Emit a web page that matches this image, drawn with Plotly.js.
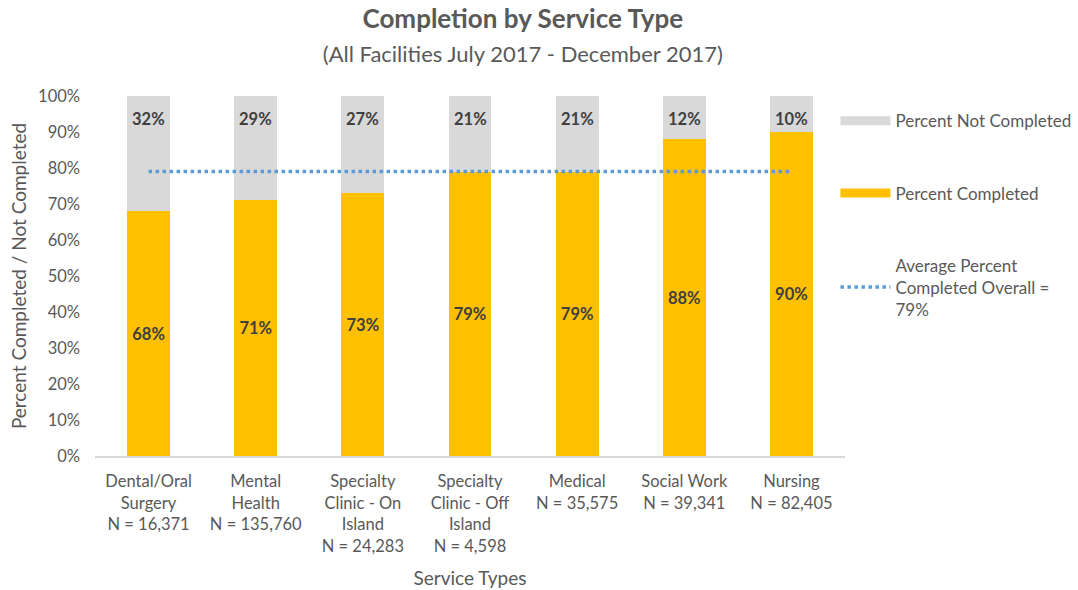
<!DOCTYPE html>
<html>
<head>
<meta charset="utf-8">
<script src="https://cdn.plot.ly/plotly-3.0.1.min.js"></script>
<style>html,body{margin:0;padding:0;background:#fff;}#chart{width:1078px;height:590px;}</style>
</head>
<body>
<div id="chart"></div>
<script>
const categories = [
  "Dental/Oral<br>Surgery<br>N = 16,371",
  "Mental<br>Health<br>N = 135,760",
  "Specialty<br>Clinic - On<br>Island<br>N = 24,283",
  "Specialty<br>Clinic - Off<br>Island<br>N = 4,598",
  "Medical<br>N = 35,575",
  "Social Work<br>N = 39,341",
  "Nursing<br>N = 82,405"
];
const percentCompleted = [68, 71, 73, 79, 79, 88, 90];
const percentNotCompleted = [32, 29, 27, 21, 21, 12, 10];
const averageCompleted = [79, 79, 79, 79, 79, 79, 79];
const yTickVals = [0, 10, 20, 30, 40, 50, 60, 70, 80, 90, 100];
const yTickText = yTickVals.map(v => v + "%");

const FONT = "Lato, 'Open Sans', sans-serif";
const LABEL = "#404040";
const AXIS = "#595959";
const GREY = "#D9D9D9";
const GOLD = "#FFC000";

const traces = [
  {
    type: "bar", name: "Percent Completed", x: categories, y: percentCompleted,
    marker: {color: GOLD},
    text: percentCompleted.map(v => "<b>" + v + "%</b>"),
    textposition: "inside", insidetextanchor: "middle",
    textfont: {family: FONT, size: 16.5, color: LABEL},
    showlegend: false, hoverinfo: "skip"
  },
  {
    type: "bar", name: "Percent Not Completed", x: categories, y: percentNotCompleted,
    marker: {color: GREY},
    showlegend: false, hoverinfo: "skip"
  },
  {
    type: "scatter", mode: "lines",
    name: "Average Percent<br>Completed Overall =<br>79%",
    x: categories, y: averageCompleted,
    line: {color: "#5B9BD5", width: 3.5, dash: "dot"},
    legendgroup: "c", legendrank: 3, hoverinfo: "skip"
  },
  // legend-only entries (wide swatches like the original legend)
  {
    type: "scatter", mode: "lines", name: "Percent Not Completed",
    x: [null], y: [null], line: {color: GREY, width: 9},
    legendgroup: "a", legendrank: 1, hoverinfo: "skip"
  },
  {
    type: "scatter", mode: "lines", name: "Percent Completed",
    x: [null], y: [null], line: {color: GOLD, width: 9},
    legendgroup: "b", legendrank: 2, hoverinfo: "skip"
  }
];

const notCompletedLabels = categories.map((c, i) => ({
  x: c, y: percentCompleted[i] + percentNotCompleted[i],
  xref: "x", yref: "y", yanchor: "middle", yshift: -23,
  text: "<b>" + percentNotCompleted[i] + "%</b>", showarrow: false,
  font: {family: FONT, size: 16.5, color: LABEL}
}));

const layout = {
  width: 1078, height: 590,
  margin: {l: 95, r: 233, t: 96, b: 134, autoexpand: false},
  paper_bgcolor: "#fff", plot_bgcolor: "#fff",
  barmode: "stack", bargap: 0.6,
  font: {family: FONT, color: AXIS, size: 16.5},
  title: {
    text: "<b>Completion by Service Type</b><br><span style='font-size:22px'>(All Facilities July 2017 - December 2017)</span>",
    x: 0.485, xanchor: "center", xref: "container",
    y: 0.953, yanchor: "middle", yref: "container",
    font: {family: FONT, size: 26, color: AXIS}
  },
  xaxis: {
    type: "category", showgrid: false, showline: true, linecolor: GREY, linewidth: 1.5,
    ticks: "", tickfont: {family: FONT, size: 16.5, color: AXIS}, tickangle: 0,
    ticklabelstandoff: 10,
    title: {text: "Service Types", font: {family: FONT, size: 19, color: AXIS}, standoff: 17}
  },
  yaxis: {
    range: [0, 100], tickvals: yTickVals, ticktext: yTickText,
    showgrid: false, zeroline: false, showline: false, ticks: "",
    tickfont: {family: FONT, size: 16.5, color: AXIS}, ticklabelstandoff: 14,
    title: {text: "Percent Completed / Not Completed", font: {family: FONT, size: 19, color: AXIS}, standoff: 6}
  },
  annotations: notCompletedLabels,
  showlegend: true,
  legend: {
    xref: "container", yref: "container",
    x: 0.775, y: 0.825, xanchor: "left", yanchor: "top",
    traceorder: "grouped", tracegroupgap: 47,
    font: {family: FONT, size: 17, color: AXIS},
    bgcolor: "rgba(0,0,0,0)", itemwidth: 50
  }
};

Plotly.newPlot("chart", traces, layout, {displayModeBar: false, staticPlot: true});
</script>
</body>
</html>
